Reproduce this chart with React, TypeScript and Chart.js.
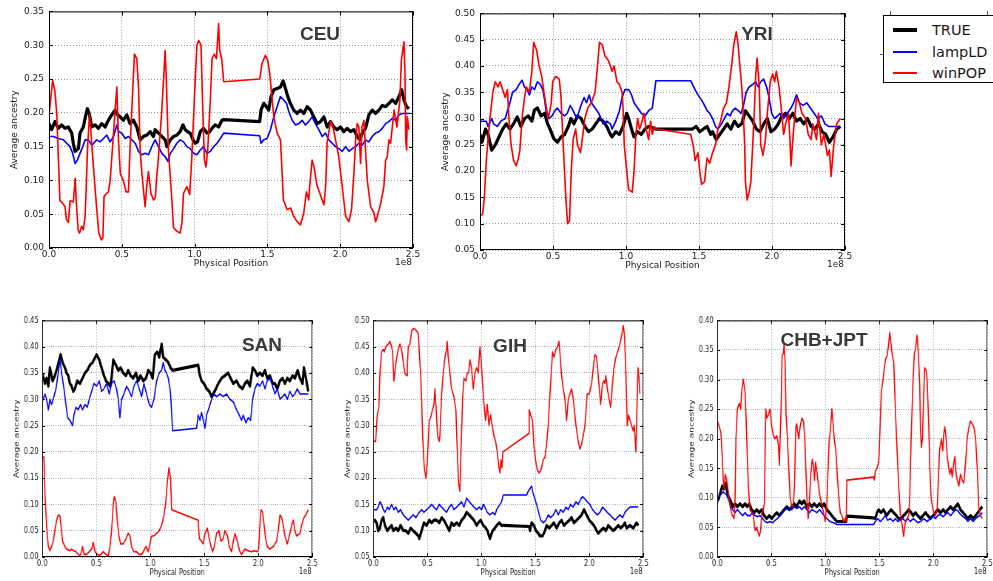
import React, { useEffect, useRef } from "react";
import { Chart, registerables } from "chart.js";

Chart.register(...registerables);

// [position (Mb), average ancestry]
type Pt = [number, number];

const X_TICK_LABELS = ["0.0", "0.5", "1.0", "1.5", "2.0", "2.5"];

const CEU_TRUE: Pt[] = [[0,0.184],[1.8,0.175],[4.1,0.187],[6.4,0.177],[8.7,0.182],[11,0.177],[13.3,0.179],[15.6,0.17],[16.7,0.155],[17.9,0.143],[20.2,0.147],[21.3,0.17],[23.6,0.179],[25.5,0.199],[26.4,0.206],[27.8,0.197],[29.4,0.179],[31.7,0.182],[33.9,0.177],[36.2,0.184],[38.5,0.179],[40.8,0.189],[43.1,0.197],[45.4,0.204],[47,0.197],[48.9,0.194],[51.1,0.189],[53.4,0.197],[55.7,0.184],[58,0.189],[60.3,0.179],[62.6,0.16],[64.9,0.165],[67.2,0.167],[69.5,0.172],[71.8,0.165],[72.9,0.175],[75.2,0.17],[77.5,0.165],[79.8,0.16],[81,0.15],[83.3,0.16],[85.6,0.165],[87.8,0.167],[90.1,0.172],[92,0.182],[93.6,0.175],[95.2,0.172],[97,0.17],[98.9,0.16],[100.5,0.155],[102,0.157],[103.9,0.172],[106.2,0.177],[108.5,0.17],[110.3,0.172],[111.9,0.177],[114.2,0.182],[116.5,0.179],[118.8,0.189],[120,0.19],[144.7,0.187],[145.6,0.204],[147.5,0.214],[149.3,0.209],[150.9,0.204],[152.5,0.224],[154.4,0.234],[156.7,0.236],[158.9,0.238],[160.8,0.247],[162.4,0.236],[164,0.224],[165.8,0.214],[168.1,0.204],[170.4,0.199],[172.7,0.204],[175,0.199],[177.3,0.209],[179.6,0.204],[181.9,0.194],[184.2,0.184],[186.5,0.187],[188.8,0.194],[191.1,0.179],[193.3,0.187],[195.6,0.179],[197.9,0.175],[200.2,0.179],[202.5,0.172],[204.8,0.177],[207.1,0.172],[209.4,0.175],[211.7,0.165],[213.5,0.16],[215.1,0.17],[217.4,0.177],[219.7,0.197],[222,0.204],[224.3,0.199],[226.6,0.204],[228.9,0.211],[231.2,0.209],[233.5,0.214],[235.8,0.219],[238.1,0.214],[240.4,0.224],[242.2,0.234],[243.8,0.219],[245.6,0.209],[247.2,0.206]];
const CEU_LAMPLD: Pt[] = [[0,0.165],[3,0.165],[6.4,0.162],[9.9,0.16],[12.2,0.155],[14.4,0.15],[16.3,0.14],[17.9,0.125],[19.5,0.13],[21.3,0.14],[23.2,0.15],[24.8,0.16],[27.1,0.16],[29.4,0.152],[32.8,0.16],[35.1,0.157],[37.4,0.162],[39.7,0.167],[42,0.157],[44.3,0.165],[46.6,0.182],[47.9,0.172],[50,0.17],[52.3,0.162],[54.6,0.165],[56.9,0.16],[59.2,0.155],[61.5,0.143],[63.8,0.138],[66.1,0.14],[68.3,0.138],[70.6,0.15],[72.9,0.16],[75.2,0.15],[77.5,0.14],[79.8,0.135],[81.7,0.128],[83.3,0.14],[85.6,0.147],[87.8,0.155],[90.1,0.16],[92.4,0.157],[94.7,0.15],[97,0.147],[99.3,0.14],[101.6,0.138],[103.9,0.145],[106.2,0.15],[108.5,0.14],[110.8,0.143],[113.1,0.15],[115.4,0.155],[117.7,0.162],[120,0.17],[144.7,0.166],[145.6,0.155],[147.5,0.16],[149.8,0.162],[152.1,0.175],[154.4,0.194],[156.7,0.209],[158.9,0.224],[161.2,0.219],[163.1,0.214],[164.7,0.202],[167,0.189],[169.3,0.182],[171.6,0.184],[173.9,0.189],[176.1,0.182],[178.4,0.187],[180.7,0.194],[183,0.184],[185.3,0.175],[187.6,0.165],[189.9,0.17],[192.2,0.16],[194.5,0.155],[196.8,0.15],[199.1,0.147],[201.4,0.143],[203.7,0.15],[206,0.143],[208.3,0.147],[210.6,0.15],[212.8,0.155],[215.1,0.152],[217.4,0.16],[219.7,0.157],[222,0.165],[224.3,0.17],[226.6,0.172],[228.9,0.177],[231.2,0.184],[233.5,0.187],[235.8,0.192],[238.1,0.189],[240.4,0.197],[242.7,0.199],[245,0.199],[247.2,0.199]];
const CEU_WINPOP: Pt[] = [[0,0.197],[2.5,0.248],[4,0.233],[5.3,0.2],[7.5,0.07],[9.4,0.066],[11,0.061],[12,0.042],[13.3,0.038],[14.5,0.07],[16.7,0.068],[18,0.103],[18.7,0.07],[20,0.027],[21,0.022],[22.5,0.032],[23.6,0.027],[24.8,0.047],[25.5,0.086],[26.4,0.145],[27.8,0.197],[28.7,0.175],[30.5,0.12],[32.8,0.057],[34.2,0.022],[36,0.012],[37,0.015],[37.8,0.076],[39.7,0.081],[40.8,0.083],[42,0.1],[44,0.16],[45.4,0.204],[46.6,0.238],[47.7,0.16],[49,0.11],[51,0.1],[53,0.083],[54.6,0.083],[55.7,0.15],[57.6,0.238],[58.7,0.287],[60.3,0.28],[61.5,0.238],[62.6,0.145],[63.8,0.11],[66,0.061],[67.2,0.093],[68.3,0.113],[70,0.081],[71.8,0.071],[73,0.074],[74,0.106],[75.2,0.135],[77.5,0.204],[79.8,0.292],[80.5,0.253],[82,0.145],[84.4,0.071],[85.5,0.03],[87.8,0.025],[90,0.022],[91.3,0.037],[92.4,0.081],[94.7,0.091],[96.6,0.079],[98,0.13],[100,0.229],[101.6,0.3],[102.8,0.307],[104.4,0.3],[105.5,0.214],[106.7,0.13],[107.8,0.12],[109,0.145],[110.8,0.219],[112,0.28],[113.5,0.287],[115,0.28],[116.5,0.332],[117.2,0.293],[118.6,0.28],[120,0.246],[144.7,0.25],[146.3,0.273],[148.6,0.285],[150.2,0.278],[151.6,0.258],[154.4,0.194],[156.7,0.17],[159,0.16],[161,0.071],[163.5,0.057],[166,0.059],[168,0.047],[170.4,0.039],[172.7,0.034],[175,0.052],[176.1,0.071],[176.8,0.083],[178.4,0.071],[179,0.09],[180.7,0.13],[182,0.12],[184,0.093],[186,0.081],[187.6,0.071],[188.8,0.064],[190,0.091],[191,0.155],[193.3,0.187],[195,0.18],[196.8,0.16],[199,0.135],[201.4,0.091],[203.7,0.047],[206,0.039],[207.8,0.057],[209.4,0.11],[210.6,0.16],[211.7,0.184],[212.8,0.179],[214,0.125],[215,0.179],[216.3,0.189],[217.4,0.145],[218.6,0.1],[220.9,0.061],[223.2,0.052],[224.3,0.039],[225.5,0.047],[227.8,0.066],[230,0.091],[231.2,0.13],[232.3,0.135],[233.5,0.16],[234.6,0.155],[237,0.204],[239,0.179],[241,0.219],[242,0.278],[243.8,0.305],[244.5,0.258],[245,0.16],[245.6,0.145],[246.1,0.194],[247.2,0.175]];

const YRI_TRUE: Pt[] = [[0,0.27],[1.3,0.255],[3.8,0.28],[5.5,0.27],[8,0.24],[10.5,0.25],[13,0.265],[15.5,0.28],[18,0.29],[20.5,0.28],[23,0.29],[25.5,0.303],[28,0.285],[30.5,0.3],[33,0.305],[35.5,0.295],[37.3,0.316],[39.3,0.32],[41.8,0.305],[44.3,0.31],[46.3,0.29],[48,0.28],[50.5,0.262],[53,0.255],[55.5,0.265],[58,0.27],[60.5,0.285],[62.3,0.3],[64.3,0.29],[66.8,0.305],[69.3,0.3],[71.8,0.285],[74.3,0.275],[76.8,0.28],[79.3,0.29],[81.8,0.3],[84.3,0.295],[86.8,0.285],[89.3,0.27],[90.5,0.265],[93,0.275],[95.5,0.27],[98,0.285],[100.5,0.31],[101.8,0.3],[103.8,0.28],[105.5,0.265],[108,0.275],[110.5,0.27],[113,0.28],[115.5,0.285],[120.5,0.28],[145.5,0.28],[148,0.285],[150.5,0.275],[153,0.28],[155.5,0.285],[158,0.27],[159.3,0.275],[161.8,0.26],[164.3,0.27],[166.8,0.28],[169.3,0.29],[171.8,0.28],[174.3,0.295],[176.8,0.285],[179.3,0.29],[181.8,0.315],[184.3,0.305],[186.8,0.295],[189.3,0.28],[191.8,0.275],[194.3,0.29],[196.8,0.3],[199.3,0.275],[201.8,0.28],[204.3,0.29],[206.8,0.305],[209.3,0.31],[211.8,0.3],[214.3,0.31],[216.8,0.295],[219.3,0.3],[221.8,0.29],[224.3,0.3],[226.8,0.285],[229.3,0.28],[231.8,0.29],[234.3,0.275],[236.8,0.27],[239.3,0.255],[241.8,0.265],[244.3,0.28],[246.8,0.285]];
const YRI_LAMPLD: Pt[] = [[0,0.295],[4.3,0.295],[5.5,0.285],[8,0.3],[9.3,0.29],[11.8,0.285],[14.3,0.295],[17.3,0.3],[18.8,0.315],[20.5,0.33],[22.3,0.35],[24.8,0.355],[26.8,0.365],[28.8,0.373],[30.5,0.36],[32.3,0.355],[33.8,0.345],[35.5,0.36],[37.3,0.355],[39.3,0.37],[41.3,0.365],[43,0.355],[44.3,0.335],[45.5,0.31],[47.3,0.3],[49.3,0.305],[51.3,0.315],[53,0.32],[55.5,0.31],[58,0.305],[59.8,0.31],[61.8,0.325],[63.8,0.315],[66.3,0.3],[68,0.315],[69.8,0.33],[71.3,0.34],[73,0.33],[74.8,0.345],[76.3,0.33],[78.8,0.32],[81.3,0.31],[83,0.3],[84.3,0.29],[86.8,0.295],[89.3,0.29],[90.5,0.28],[93,0.295],[95.5,0.315],[97.3,0.34],[99.3,0.355],[101.8,0.355],[103.8,0.345],[105.5,0.33],[108,0.32],[110.5,0.31],[113,0.305],[115.5,0.315],[118,0.32],[120.5,0.372],[144.3,0.372],[145.5,0.365],[147.3,0.355],[149.3,0.345],[151.8,0.335],[153.8,0.325],[155.5,0.315],[157.3,0.31],[159.3,0.3],[161.3,0.285],[163,0.28],[165.5,0.29],[167.3,0.3],[169.3,0.31],[171.3,0.305],[173,0.315],[174.8,0.32],[176.8,0.315],[178.8,0.31],[180.5,0.325],[182.3,0.35],[184.3,0.36],[186.8,0.365],[188.8,0.37],[190.5,0.36],[192.3,0.37],[194.3,0.375],[196.3,0.36],[198,0.34],[199.8,0.31],[201.8,0.3],[203.8,0.305],[205.5,0.31],[208,0.3],[210.5,0.31],[213,0.32],[214.8,0.33],[216.8,0.345],[218.8,0.33],[221.3,0.325],[223.8,0.33],[226.3,0.32],[228.8,0.31],[231.3,0.3],[233.8,0.305],[236.3,0.29],[238.8,0.285],[246.8,0.285]];
const YRI_WINPOP: Pt[] = [[0,0.115],[1.8,0.118],[3,0.15],[4.3,0.22],[5.5,0.26],[6.8,0.3],[8.8,0.35],[10.5,0.37],[12.3,0.36],[13.8,0.37],[15.5,0.355],[17.3,0.34],[18.8,0.355],[19.8,0.3],[21.3,0.25],[23,0.22],[24.8,0.21],[26.3,0.225],[27.3,0.24],[28.8,0.3],[30.5,0.34],[31.8,0.36],[33.8,0.35],[35.5,0.39],[36.8,0.445],[38.8,0.43],[40.5,0.4],[42.3,0.38],[43.8,0.35],[45.5,0.32],[46.8,0.3],[48.8,0.33],[49.8,0.37],[51.8,0.38],[54.3,0.375],[55.5,0.34],[56.8,0.26],[58.8,0.15],[60,0.1],[61.3,0.105],[62.5,0.2],[63.8,0.26],[65.5,0.28],[66.8,0.25],[68.8,0.235],[70.5,0.27],[71.8,0.3],[73.8,0.32],[76.3,0.33],[78.8,0.35],[80.5,0.4],[81.8,0.445],[83.8,0.44],[85.5,0.42],[88,0.41],[90.5,0.39],[91.8,0.4],[93.8,0.37],[95.5,0.365],[97.3,0.35],[98,0.32],[98.8,0.25],[100.5,0.2],[101.8,0.165],[104.3,0.16],[105.5,0.2],[106.8,0.27],[108,0.3],[109.3,0.28],[110.5,0.29],[112.3,0.31],[113.8,0.28],[115.5,0.26],[116.8,0.295],[118,0.27],[119.3,0.285],[120.5,0.28],[144.3,0.27],[146.3,0.245],[147.3,0.22],[149.3,0.235],[150.5,0.2],[151.8,0.175],[153.8,0.18],[155.5,0.225],[157.3,0.215],[159.3,0.235],[161.3,0.25],[163,0.28],[164.8,0.295],[166.8,0.32],[168.8,0.33],[170.5,0.36],[172.3,0.4],[173.8,0.44],[175.5,0.465],[176.8,0.44],[178,0.4],[179.3,0.36],[180.5,0.3],[181.3,0.25],[181.8,0.18],[183,0.145],[184.3,0.16],[185.5,0.18],[186.8,0.25],[188,0.32],[188.8,0.38],[189.8,0.415],[191.3,0.36],[192.3,0.25],[193.8,0.23],[195.5,0.26],[196.8,0.31],[198.8,0.37],[200.5,0.385],[201.8,0.37],[203,0.39],[204.8,0.36],[206.3,0.32],[208,0.27],[209.3,0.29],[211.3,0.31],[212.3,0.26],[213,0.21],[214.8,0.28],[216.8,0.34],[218.8,0.33],[220.5,0.31],[223,0.3],[224.8,0.27],[226.8,0.26],[228,0.29],[230.5,0.26],[231.8,0.31],[233.8,0.25],[235.5,0.27],[238,0.23],[239.3,0.24],[240.5,0.19],[242.3,0.25],[244.3,0.29],[246.8,0.3]];

const SAN_TRUE: Pt[] = [[0,0.35],[2.5,0.33],[4,0.34],[5.6,0.325],[7.1,0.36],[9.6,0.335],[11.7,0.345],[13.9,0.36],[15.7,0.375],[17,0.385],[18.8,0.37],[21,0.36],[22.5,0.35],[24.1,0.345],[25.6,0.33],[27.2,0.325],[28.7,0.315],[30.2,0.32],[32.4,0.335],[34.9,0.33],[37.3,0.34],[39.5,0.35],[41.7,0.355],[44.1,0.365],[46.6,0.37],[50.3,0.385],[52.8,0.375],[54.9,0.36],[57.1,0.345],[59,0.335],[61.1,0.33],[62.7,0.325],[64.2,0.34],[65.7,0.375],[68.2,0.365],[70.4,0.355],[72.5,0.36],[75,0.35],[77.5,0.345],[79.6,0.355],[81.8,0.345],[84.3,0.34],[86.7,0.35],[88.9,0.335],[91,0.345],[93.5,0.335],[96,0.34],[98.1,0.355],[100.3,0.35],[102.2,0.34],[104.3,0.385],[106.5,0.39],[108.3,0.38],[110.5,0.405],[112,0.38],[114.5,0.375],[116.7,0.37],[118.8,0.36],[120.7,0.355],[144.4,0.365],[145.4,0.35],[147.5,0.335],[149.7,0.33],[152.2,0.32],[154.6,0.315],[156.8,0.305],[158.3,0.31],[160.8,0.32],[163,0.33],[166,0.34],[169.1,0.345],[172.2,0.35],[174.4,0.34],[176.9,0.33],[179.9,0.335],[182.4,0.325],[185.5,0.32],[187.7,0.33],[189.8,0.335],[192.3,0.325],[194.8,0.36],[196.9,0.355],[199.1,0.345],[201.5,0.35],[204,0.345],[206.2,0.355],[208.3,0.34],[210.8,0.345],[213.3,0.33],[215.4,0.33],[217.6,0.32],[220.1,0.335],[222.5,0.34],[224.7,0.33],[226.9,0.34],[229.3,0.335],[231.8,0.345],[233.9,0.34],[236.4,0.355],[238.6,0.34],[241,0.33],[242.3,0.36],[244.1,0.34],[246.3,0.315]];
const SAN_LAMPLD: Pt[] = [[0,0.295],[2.5,0.31],[4,0.3],[5.6,0.28],[7.1,0.3],[8.6,0.29],[10.8,0.305],[12.7,0.32],[14.8,0.35],[16.4,0.375],[17.9,0.35],[20.1,0.32],[21.9,0.29],[23.5,0.265],[25.6,0.26],[28.1,0.25],[29.3,0.27],[31.2,0.285],[33.3,0.28],[35.5,0.29],[37.3,0.28],[39.5,0.29],[41.7,0.285],[43.5,0.3],[45.7,0.315],[47.8,0.33],[50.3,0.325],[52.8,0.335],[54.9,0.315],[57.1,0.32],[59.6,0.33],[62,0.31],[64.2,0.33],[66.4,0.335],[68.8,0.32],[70.4,0.3],[71.9,0.265],[73.5,0.3],[75.6,0.31],[78.1,0.325],[80.6,0.315],[82.7,0.305],[84.9,0.325],[87.3,0.335],[89.8,0.32],[92,0.305],[94.1,0.33],[96.6,0.31],[99.1,0.29],[101.2,0.285],[103.4,0.3],[105.9,0.335],[108.3,0.35],[110.5,0.355],[112,0.37],[113.6,0.355],[115.1,0.35],[116.7,0.34],[118.2,0.32],[118.8,0.31],[120.7,0.24],[142.9,0.245],[144.4,0.27],[146,0.26],[147.5,0.275],[149.1,0.26],[150.6,0.245],[152.2,0.27],[154.6,0.285],[156.8,0.3],[159,0.31],[161.4,0.305],[164.5,0.31],[167.6,0.305],[170.7,0.31],[173.8,0.3],[176.9,0.295],[179.9,0.28],[182.4,0.27],[184.6,0.26],[186.1,0.27],[188.6,0.255],[190.7,0.265],[192.9,0.26],[194.8,0.3],[196.9,0.32],[199.1,0.33],[201.5,0.325],[204,0.335],[206.2,0.32],[208.3,0.335],[210.8,0.34],[213.3,0.325],[215.4,0.31],[217.6,0.32],[220.1,0.3],[222.5,0.305],[224.7,0.31],[226.9,0.3],[229.3,0.315],[231.8,0.305],[233.9,0.31],[236.1,0.32],[238.6,0.31],[246.3,0.31]];
const SAN_WINPOP: Pt[] = [[0,0.19],[1.5,0.19],[2.5,0.12],[4,0.06],[5.6,0.02],[7.1,0.012],[8.6,0.02],[10.2,0.03],[11.7,0.05],[13.3,0.07],[14.8,0.08],[16.4,0.078],[17.3,0.06],[18.8,0.03],[21,0.02],[22.5,0.015],[25.6,0.012],[27.2,0.015],[29.3,0.012],[31.2,0.01],[33.3,0.005],[34.9,0.002],[36.4,0.01],[37.3,0.02],[38.6,0.005],[41,0.005],[43.5,0.01],[45.7,0.015],[47.2,0.028],[48.8,0.01],[50.9,0.005],[53.4,0.003],[56.5,0.01],[59,0.005],[61.1,0.002],[62.7,0.02],[64.2,0.05],[65.7,0.1],[66.7,0.115],[68.2,0.105],[69.4,0.07],[71,0.04],[72.5,0.025],[75,0.025],[77.5,0.035],[79.6,0.045],[81.2,0.04],[82.7,0.02],[84.9,0.01],[87.3,0.01],[89.8,0.005],[92,0.005],[93.5,0.01],[96,0.02],[98.1,0.01],[99.7,0.025],[101.2,0.04],[103.4,0.04],[105.9,0.045],[108.3,0.05],[110.5,0.06],[112.7,0.08],[114.2,0.1],[115.7,0.14],[117.3,0.17],[118.8,0.15],[119.8,0.09],[144.4,0.07],[145.4,0.035],[147.5,0.03],[149.1,0.025],[150.6,0.045],[152.8,0.055],[154.6,0.035],[156.2,0.02],[157.7,0.01],[159.3,0.02],[161.4,0.045],[163.6,0.05],[165.4,0.03],[167.6,0.035],[169.1,0.05],[171.6,0.04],[173.1,0.02],[175.3,0.01],[176.9,0.03],[178.4,0.045],[180.6,0.03],[183,0.01],[184.6,0.005],[187.7,0.015],[190.7,0.012],[193.8,0.01],[196,0.012],[199.1,0.01],[200.3,0.015],[201.5,0.06],[202.5,0.09],[204,0.085],[205.2,0.065],[206.8,0.035],[208.3,0.02],[210.8,0.015],[213.9,0.02],[217,0.03],[218.5,0.05],[220.1,0.08],[221.6,0.075],[223.1,0.06],[224.7,0.04],[226.9,0.025],[228.7,0.04],[230.9,0.06],[232.4,0.07],[233.9,0.05],[235.5,0.04],[238.6,0.045],[240.1,0.06],[242.3,0.075],[244.1,0.08],[246.3,0.09]];

const GIH_TRUE: Pt[] = [[0,0.118],[1.5,0.12],[3.1,0.115],[4.6,0.1],[6.2,0.105],[7.7,0.12],[9.3,0.125],[10.8,0.11],[13,0.1],[14.8,0.105],[17,0.11],[18.5,0.1],[21,0.105],[23.1,0.1],[25.3,0.11],[27.8,0.1],[30.2,0.1],[32.4,0.095],[34.6,0.105],[37,0.1],[39.5,0.095],[41.7,0.09],[42.6,0.085],[44.8,0.1],[46.9,0.115],[49.4,0.11],[51.9,0.12],[54,0.115],[56.2,0.12],[58.6,0.12],[61.1,0.115],[63.3,0.125],[65.4,0.12],[67.9,0.11],[70.4,0.1],[72.5,0.115],[74.7,0.11],[77.2,0.115],[79.6,0.11],[81.8,0.12],[84,0.125],[86.4,0.135],[88.9,0.13],[91,0.125],[93.2,0.12],[95.7,0.11],[97.2,0.115],[99.4,0.12],[101.9,0.11],[104.3,0.105],[105.6,0.1],[108,0.085],[110.5,0.1],[112.7,0.105],[114.2,0.11],[116.7,0.115],[118.8,0.11],[119.8,0.11],[144.4,0.108],[145.1,0.1],[146.6,0.115],[148.8,0.11],[150.6,0.1],[152.8,0.095],[154.3,0.09],[156.8,0.09],[159,0.1],[160.5,0.11],[163,0.105],[165.1,0.11],[167.3,0.115],[169.8,0.105],[172.2,0.115],[174.4,0.12],[176.5,0.11],[179,0.115],[181.5,0.12],[183.6,0.125],[185.8,0.115],[188.3,0.12],[190.7,0.125],[192.9,0.13],[195.1,0.14],[197.5,0.13],[200,0.12],[202.2,0.115],[204.3,0.11],[206.8,0.1],[208.3,0.095],[210.5,0.1],[213,0.105],[215.4,0.1],[217.6,0.11],[219.8,0.105],[222.2,0.1],[224.7,0.105],[226.9,0.11],[229,0.105],[231.5,0.11],[233,0.115],[234.6,0.105],[237.7,0.11],[240.7,0.105],[243.8,0.115],[245.4,0.11]];
const GIH_LAMPLD: Pt[] = [[0,0.14],[3.1,0.14],[4.6,0.145],[6.2,0.155],[7.7,0.15],[9.3,0.14],[10.8,0.135],[13,0.145],[14.8,0.14],[17,0.15],[19.1,0.14],[21,0.145],[23.1,0.135],[25.3,0.14],[27.8,0.13],[30.2,0.125],[32.4,0.12],[34.6,0.125],[37,0.13],[39.5,0.125],[42.6,0.135],[44.8,0.14],[46.9,0.135],[49.4,0.14],[51.9,0.145],[54,0.15],[56.2,0.145],[58.6,0.14],[61.1,0.15],[63.3,0.145],[65.4,0.14],[67.9,0.135],[70.4,0.145],[72.5,0.15],[74.7,0.14],[77.2,0.145],[79.6,0.15],[81.8,0.155],[84,0.145],[86.4,0.162],[88.9,0.155],[91,0.15],[93.2,0.145],[95.7,0.14],[98.1,0.145],[100.3,0.14],[101.9,0.15],[103.4,0.145],[105.6,0.135],[108,0.13],[110.5,0.135],[112.7,0.13],[114.2,0.14],[115.7,0.145],[117.3,0.15],[118.8,0.155],[120.4,0.168],[142,0.168],[143.5,0.175],[145.1,0.18],[146.6,0.185],[148.1,0.17],[149.7,0.16],[151.9,0.145],[153.7,0.13],[155.2,0.12],[157.4,0.115],[159.9,0.12],[162,0.13],[164.2,0.125],[166.7,0.13],[169.1,0.14],[171.3,0.13],[173.5,0.14],[175.9,0.135],[178.4,0.145],[180.6,0.14],[182.7,0.15],[185.2,0.145],[187.7,0.155],[189.8,0.15],[192,0.16],[193.8,0.165],[196,0.16],[198.1,0.155],[200.6,0.15],[203.1,0.14],[205.2,0.135],[207.4,0.13],[209.9,0.135],[212.3,0.145],[214.5,0.14],[216.7,0.135],[219.1,0.13],[221.6,0.125],[223.8,0.12],[225.9,0.125],[228.4,0.13],[230.9,0.125],[233,0.135],[235.2,0.14],[237.7,0.145],[245.4,0.145]];
const GIH_WINPOP: Pt[] = [[0,0.27],[2.2,0.27],[3.7,0.32],[5.2,0.335],[6.2,0.4],[7.7,0.44],[9.3,0.445],[10.2,0.44],[11.7,0.45],[13.9,0.455],[15.4,0.46],[17,0.45],[17.9,0.44],[19.1,0.385],[21,0.42],[23.1,0.445],[24.7,0.455],[26.2,0.445],[27.8,0.42],[29.3,0.4],[30.9,0.395],[31.5,0.41],[32.4,0.45],[34,0.455],[35.5,0.48],[37.7,0.485],[40.1,0.48],[41.7,0.475],[42.6,0.44],[43.8,0.4],[44.8,0.35],[45.7,0.28],[47.2,0.22],[48.8,0.2],[50,0.23],[50.9,0.27],[51.9,0.31],[53.1,0.315],[54.9,0.33],[56.2,0.34],[57.1,0.37],[58,0.34],[59.6,0.28],[61.1,0.27],[61.7,0.28],[63.3,0.36],[64.8,0.4],[66.4,0.43],[67.9,0.445],[68.5,0.46],[69.4,0.43],[71,0.4],[72.5,0.37],[74.7,0.355],[76.5,0.33],[77.8,0.25],[79,0.19],[80.2,0.175],[81.2,0.25],[82.7,0.35],[84,0.39],[85.8,0.385],[87,0.4],[88.3,0.4],[89.5,0.425],[91,0.41],[92.6,0.37],[94.1,0.4],[95.7,0.41],[97.2,0.4],[98.8,0.45],[99.7,0.43],[101.2,0.38],[102.5,0.34],[104,0.31],[105.6,0.34],[107.1,0.3],[108.6,0.32],[110.2,0.3],[111.7,0.28],[113.3,0.27],[114.8,0.25],[116.4,0.22],[117.3,0.21],[118.2,0.235],[119.1,0.22],[120.1,0.25],[144.1,0.285],[144.4,0.33],[145.7,0.32],[147.5,0.31],[148.8,0.26],[150.6,0.23],[151.9,0.215],[153.7,0.21],[155.2,0.215],[157.4,0.235],[159,0.24],[160.5,0.265],[162,0.3],[163.6,0.36],[165.1,0.41],[166,0.44],[167.3,0.43],[169.1,0.445],[170.7,0.45],[171.9,0.46],[172.8,0.44],[174.1,0.4],[175.9,0.37],[177.5,0.35],[179,0.31],[180.6,0.35],[182.1,0.36],[183.6,0.37],[185.2,0.35],[187.7,0.3],[189.8,0.27],[191.4,0.255],[192.9,0.265],[194.4,0.28],[196,0.3],[198.1,0.36],[200,0.36],[202.2,0.38],[203.7,0.41],[205.2,0.435],[206.8,0.43],[208.3,0.395],[209.3,0.37],[210.5,0.34],[212.3,0.38],[213.6,0.385],[214.5,0.38],[215.4,0.395],[216.7,0.37],[218.5,0.35],[219.8,0.335],[221.6,0.38],[222.8,0.41],[224.7,0.43],[226.2,0.44],[227.8,0.45],[229.9,0.47],[231.5,0.49],[232.7,0.47],[233.9,0.4],[235.2,0.3],[236.4,0.32],[237.7,0.31],[239.2,0.3],[240.7,0.29],[241.7,0.3],[243.2,0.25],[244.1,0.33],[245.1,0.41],[246,0.39],[246.9,0.36]];

const CHBJPT_TRUE: Pt[] = [[0,0.094],[1.5,0.1],[3.1,0.11],[4.6,0.12],[6.2,0.115],[7.7,0.125],[9.3,0.11],[10.8,0.1],[12.4,0.095],[14.2,0.085],[16.4,0.09],[18.6,0.085],[21,0.09],[23.5,0.085],[25.7,0.09],[27.8,0.085],[29.7,0.09],[31.9,0.08],[34,0.075],[36.5,0.08],[39,0.075],[41.2,0.08],[43.3,0.07],[45.8,0.065],[48.3,0.07],[50.4,0.065],[52.6,0.07],[55.1,0.075],[57.5,0.07],[59.7,0.075],[61.9,0.08],[64.4,0.085],[66.8,0.08],[69,0.085],[71.2,0.09],[73.6,0.085],[76.1,0.095],[78.3,0.09],[80.4,0.095],[82.9,0.085],[85.4,0.09],[87.6,0.085],[89.7,0.09],[92.2,0.085],[94.7,0.09],[96.8,0.085],[99,0.09],[101.5,0.08],[104,0.075],[106.1,0.07],[108.3,0.065],[110.8,0.06],[115.4,0.06],[119.4,0.06],[120,0.069],[144.8,0.066],[146.3,0.065],[147.9,0.075],[149.4,0.08],[151.6,0.075],[154,0.08],[156.6,0.07],[158.7,0.075],[160.9,0.08],[163.4,0.075],[165.8,0.07],[168,0.065],[170.2,0.065],[172.6,0.07],[175.1,0.075],[177.3,0.08],[179.5,0.075],[181.3,0.07],[183.5,0.075],[185.6,0.07],[188.1,0.065],[190.6,0.07],[192.8,0.075],[194.9,0.07],[197.4,0.065],[199.9,0.07],[202,0.075],[204.2,0.08],[206.7,0.075],[209.2,0.08],[211.3,0.075],[213.5,0.08],[216,0.085],[218.4,0.08],[220.6,0.085],[222.8,0.09],[225.2,0.08],[227.7,0.075],[229.9,0.07],[232.1,0.065],[234.5,0.07],[237,0.065],[239.2,0.07],[241.3,0.075],[243.2,0.08],[245.4,0.085]];
const CHBJPT_LAMPLD: Pt[] = [[0,0.1],[3.1,0.105],[5.6,0.11],[8.7,0.105],[10.8,0.095],[12.4,0.085],[14.2,0.08],[16.4,0.075],[18.6,0.08],[21,0.075],[23.5,0.07],[25.7,0.075],[27.8,0.07],[30.3,0.07],[32.8,0.075],[35,0.07],[37.1,0.068],[39.6,0.07],[42.1,0.065],[44.2,0.06],[46.4,0.058],[48.9,0.06],[51.4,0.058],[53.5,0.062],[55.7,0.065],[58.2,0.07],[60.6,0.075],[62.8,0.08],[65.9,0.082],[69,0.08],[71.2,0.085],[73.6,0.082],[76.1,0.085],[78.3,0.08],[80.4,0.085],[82.9,0.08],[85.4,0.075],[87.6,0.08],[89.7,0.078],[92.2,0.075],[94.7,0.08],[96.8,0.075],[99,0.07],[101.5,0.065],[104.6,0.06],[107.7,0.058],[110.8,0.055],[115.4,0.055],[120,0.055],[144.8,0.055],[146.3,0.06],[148.5,0.065],[151,0.06],[153.5,0.065],[155.6,0.07],[157.8,0.062],[160.3,0.065],[162.7,0.06],[164.9,0.065],[167.1,0.06],[169.6,0.062],[172,0.065],[174.5,0.06],[176.4,0.065],[178.8,0.06],[181.3,0.065],[183.5,0.062],[185.6,0.058],[188.1,0.06],[191.2,0.065],[194.3,0.06],[197.4,0.065],[199.9,0.07],[202,0.065],[204.2,0.07],[206.7,0.072],[209.2,0.068],[211.3,0.072],[213.5,0.075],[216,0.07],[218.4,0.075],[220.6,0.08],[222.8,0.078],[225.2,0.072],[227.7,0.068],[229.9,0.065],[232.1,0.06],[234.5,0.065],[237,0.06],[239.2,0.065],[241.3,0.068],[243.2,0.07],[245.4,0.075]];
const CHBJPT_WINPOP: Pt[] = [[0,0.23],[1.9,0.22],[3.4,0.21],[4.6,0.17],[5.6,0.13],[6.5,0.115],[7.4,0.14],[8.7,0.13],[9.6,0.12],[10.8,0.1],[12.4,0.08],[13.9,0.07],[15.5,0.065],[16.4,0.09],[17.3,0.2],[18.6,0.25],[20.4,0.26],[21.7,0.25],[22.6,0.28],[24.1,0.3],[25.7,0.28],[26.6,0.24],[27.8,0.17],[28.8,0.12],[30.3,0.08],[31.9,0.075],[33.4,0.07],[35,0.045],[36.5,0.05],[38.1,0.04],[39,0.035],[40.2,0.045],[41.2,0.075],[42.7,0.08],[43.6,0.09],[44.9,0.25],[45.8,0.235],[47.3,0.24],[48.9,0.25],[50.4,0.22],[52,0.205],[53.5,0.2],[55.1,0.205],[56.6,0.19],[57.5,0.155],[58.2,0.2],[59.1,0.25],[60,0.34],[61.3,0.345],[61.9,0.36],[62.8,0.33],[63.7,0.24],[65,0.2],[66.2,0.15],[67.5,0.1],[69,0.085],[70.5,0.09],[71.5,0.12],[72.7,0.22],[73.6,0.225],[74.6,0.21],[75.5,0.2],[76.7,0.22],[78.3,0.235],[79.8,0.23],[81.1,0.2],[82,0.15],[83.2,0.09],[84.2,0.065],[85.4,0.1],[86.6,0.14],[87.9,0.165],[89.1,0.155],[90,0.13],[91,0.16],[92.2,0.145],[93.8,0.12],[95.3,0.1],[96.8,0.09],[98.4,0.075],[99.9,0.06],[101.5,0.09],[102.4,0.14],[103.7,0.2],[104.6,0.21],[106.1,0.25],[107.1,0.23],[108.3,0.2],[109.8,0.18],[111.4,0.13],[112.6,0.1],[113.9,0.075],[115.4,0.07],[117,0.06],[118.5,0.065],[119.4,0.06],[120,0.13],[144.8,0.135],[145.4,0.13],[146.3,0.145],[147.9,0.15],[149.4,0.16],[150.4,0.2],[151.9,0.28],[153.5,0.3],[154.7,0.32],[155.9,0.335],[157.2,0.34],[158.7,0.36],[159.7,0.38],[160.9,0.36],[162.1,0.34],[163.4,0.33],[164.9,0.25],[166.5,0.18],[168,0.12],[169.6,0.07],[171.1,0.055],[172.6,0.035],[174.2,0.06],[175.7,0.065],[177.3,0.07],[178.2,0.1],[179.5,0.2],[180.4,0.25],[181.3,0.3],[182.5,0.345],[183.5,0.35],[185,0.375],[186,0.35],[187.5,0.29],[188.1,0.22],[189,0.185],[190,0.2],[191.2,0.28],[192.1,0.32],[193.4,0.315],[194.3,0.3],[195.9,0.22],[196.8,0.15],[198,0.1],[199.3,0.085],[200.5,0.075],[202,0.07],[203.6,0.08],[204.5,0.12],[205.8,0.18],[206.7,0.19],[207.6,0.2],[208.8,0.18],[209.8,0.21],[210.7,0.22],[211.9,0.2],[212.9,0.17],[214.4,0.15],[215.3,0.14],[216.6,0.15],[217.5,0.135],[219.1,0.16],[220,0.17],[221.2,0.14],[222.2,0.13],[223.7,0.12],[225.2,0.14],[226.8,0.13],[228.3,0.125],[229.9,0.16],[231.4,0.2],[233,0.22],[234.5,0.23],[236.1,0.225],[237.6,0.22],[239.2,0.2],[240.7,0.15],[242.3,0.08],[243.8,0.07],[245.4,0.065]];

const SERIES_NAMES = ["TRUE", "lampLD", "winPOP"];
const SERIES_COLORS = ["#000000", "#0000ff", "#ff0000"];

// Layout constants (canvas units, before any horizontal squeeze)
const Y_AXIS_W = 49;
const PAD_TOP = 10;
const PAD_RIGHT = 14;
const X_AXIS_H = 26;
const BASE_PLOT_W = 365;
const FONT_FAMILY = "'DejaVu Sans', sans-serif";
const AXIS_FONT_SIZE = 9;
const TEXT_COLOR = "#1a1a1a";

interface PanelSpec {
  title: string;
  yMin: number;
  yMax: number;
  series: Pt[][];
  area: { left: number; top: number; right: number; bottom: number };
  squeeze: boolean;
  titleAt: [number, number];
}

const PANELS: PanelSpec[] = [
  { title: "CEU", yMin: 0, yMax: 0.35, series: [CEU_TRUE, CEU_LAMPLD, CEU_WINPOP], area: { left: 49, top: 11, right: 413, bottom: 248 }, squeeze: false, titleAt: [320, 33] },
  { title: "YRI", yMin: 0.05, yMax: 0.5, series: [YRI_TRUE, YRI_LAMPLD, YRI_WINPOP], area: { left: 480, top: 13, right: 845, bottom: 250 }, squeeze: false, titleAt: [757, 33] },
  { title: "SAN", yMin: 0, yMax: 0.45, series: [SAN_TRUE, SAN_LAMPLD, SAN_WINPOP], area: { left: 42, top: 320, right: 312, bottom: 557 }, squeeze: true, titleAt: [262, 344] },
  { title: "GIH", yMin: 0.05, yMax: 0.5, series: [GIH_TRUE, GIH_LAMPLD, GIH_WINPOP], area: { left: 373, top: 320, right: 643, bottom: 557 }, squeeze: true, titleAt: [510, 345] },
  { title: "CHB+JPT", yMin: 0, yMax: 0.4, series: [CHBJPT_TRUE, CHBJPT_LAMPLD, CHBJPT_WINPOP], area: { left: 717, top: 320, right: 987, bottom: 557 }, squeeze: true, titleAt: [824, 339] },
];

// Full box around the plot, inward tick marks and the "1e8" offset label.
const framePlugin = {
  id: "axesFrame",
  afterDatasetsDraw(chart: any) {
    const { ctx, chartArea } = chart;
    const { left, top, right, bottom } = chartArea;
    const xs = chart.scales.x;
    const ys = chart.scales.y;
    ctx.save();
    ctx.strokeStyle = "#000";
    ctx.lineWidth = 1;
    ctx.strokeRect(left + 0.5, top + 0.5, right - left - 1, bottom - top - 1);
    ctx.beginPath();
    xs.ticks.forEach((t: any) => {
      const px = Math.round(xs.getPixelForValue(t.value)) + 0.5;
      ctx.moveTo(px, bottom);
      ctx.lineTo(px, bottom - 4);
      ctx.moveTo(px, top);
      ctx.lineTo(px, top + 4);
    });
    ys.ticks.forEach((t: any) => {
      const py = Math.round(ys.getPixelForValue(t.value)) + 0.5;
      ctx.moveTo(left, py);
      ctx.lineTo(left + 4, py);
      ctx.moveTo(right, py);
      ctx.lineTo(right - 4, py);
    });
    ctx.stroke();
    ctx.fillStyle = TEXT_COLOR;
    ctx.font = `${AXIS_FONT_SIZE}px ${FONT_FAMILY}`;
    ctx.textAlign = "right";
    ctx.textBaseline = "middle";
    ctx.fillText("1e8", right - 1, bottom + 15);
    ctx.restore();
  },
};

function AncestryPanel({ spec }: { spec: PanelSpec }) {
  const canvasRef = useRef<HTMLCanvasElement | null>(null);
  const { left, top, right, bottom } = spec.area;
  const plotW = spec.squeeze ? BASE_PLOT_W : right - left;
  const plotH = bottom - top;
  const sx = (right - left) / plotW;
  const cw = Y_AXIS_W + plotW + PAD_RIGHT;
  const ch = PAD_TOP + plotH + X_AXIS_H;

  useEffect(() => {
    if (!canvasRef.current) return;
    const lineH = AXIS_FONT_SIZE * 1.2;
    const font = { family: FONT_FAMILY, size: AXIS_FONT_SIZE };
    const datasets = spec.series.map((pts, i) => ({
      label: SERIES_NAMES[i],
      data: pts.map(([mb, v]) => ({ x: mb * 1e6, y: v })),
      borderColor: SERIES_COLORS[i],
      backgroundColor: SERIES_COLORS[i],
      borderWidth: i === 0 ? 3.2 : 1.6,
      pointRadius: 0,
      tension: 0,
      fill: false,
      borderJoinStyle: "round" as const,
      order: 2 - i,
    }));
    const chart = new Chart(canvasRef.current, {
      type: "line",
      data: { datasets },
      options: {
        animation: false,
        responsive: false,
        devicePixelRatio: 1,
        layout: { padding: { left: 0, top: PAD_TOP, right: PAD_RIGHT, bottom: 0 } },
        plugins: { legend: { display: false }, tooltip: { enabled: false } },
        scales: {
          x: {
            type: "linear",
            min: 0,
            max: 2.5e8,
            afterFit: (s: any) => { s.height = X_AXIS_H; },
            ticks: {
              stepSize: 5e7,
              autoSkip: false,
              maxRotation: 0,
              padding: 1,
              font,
              color: TEXT_COLOR,
              callback: (v: any) => X_TICK_LABELS[Math.round(Number(v) / 5e7)] ?? "",
            },
            grid: { color: "#9a9a9a", lineWidth: 1, drawTicks: false },
            border: { display: false, dash: [1, 2] },
            title: {
              display: true,
              text: "Physical Position",
              font,
              color: TEXT_COLOR,
              padding: { top: 0, bottom: X_AXIS_H - 16 - lineH / 2 },
            },
          },
          y: {
            type: "linear",
            min: spec.yMin,
            max: spec.yMax,
            afterFit: (s: any) => { s.width = Y_AXIS_W; },
            ticks: {
              stepSize: 0.05,
              autoSkip: false,
              padding: 5,
              font,
              color: TEXT_COLOR,
              callback: (v: any) => Number(v).toFixed(2),
            },
            grid: { color: "#9a9a9a", lineWidth: 1, drawTicks: false },
            border: { display: false, dash: [1, 2] },
            title: {
              display: true,
              text: "Average ancestry",
              font,
              color: TEXT_COLOR,
              padding: { top: Y_AXIS_W - 34 - lineH / 2, bottom: 0 },
            },
          },
        },
      },
      plugins: [framePlugin],
    });
    return () => chart.destroy();
  }, [spec]);

  return (
    <div
      style={{
        position: "absolute",
        left: left - Y_AXIS_W * sx,
        top: top - PAD_TOP,
        width: cw,
        height: ch,
        transform: `scaleX(${sx})`,
        transformOrigin: "0 0",
      }}
    >
      <canvas ref={canvasRef} width={cw} height={ch} style={{ display: "block", width: cw, height: ch }} />
    </div>
  );
}

function Legend() {
  const rows = [14, 36, 57];
  const tick = (l: number, t: number, w: number, h: number) => (
    <div style={{ position: "absolute", left: l, top: t, width: w, height: h, background: "#555" }} />
  );
  return (
    <>
      {tick(890, 11, 1, 4)}
      {tick(987, 11, 1, 4)}
      {tick(880, 54, 3, 1)}
      <div
        style={{
          position: "absolute",
          left: 883,
          top: 15,
          width: 120,
          height: 68,
          border: "1px solid #000",
          boxSizing: "border-box",
          background: "#fff",
        }}
      >
        {SERIES_NAMES.map((name, i) => (
          <React.Fragment key={name}>
            <div
              style={{
                position: "absolute",
                left: 9,
                top: rows[i] - (i === 0 ? 2 : 1),
                width: 24,
                height: i === 0 ? 4 : 2,
                background: SERIES_COLORS[i],
              }}
            />
            <div
              style={{
                position: "absolute",
                left: 48,
                top: rows[i] - 9,
                height: 18,
                lineHeight: "18px",
                fontFamily: FONT_FAMILY,
                fontSize: 14.5,
                color: TEXT_COLOR,
                whiteSpace: "nowrap",
              }}
            >
              {name}
            </div>
          </React.Fragment>
        ))}
      </div>
    </>
  );
}

export default function App() {
  return (
    <div
      style={{
        position: "fixed",
        left: 0,
        top: 0,
        width: 993,
        height: 581,
        background: "#ffffff",
        overflow: "hidden",
      }}
    >
      {PANELS.map((p) => (
        <AncestryPanel key={p.title} spec={p} />
      ))}
      {PANELS.map((p) => (
        <div
          key={`t-${p.title}`}
          style={{
            position: "absolute",
            left: p.titleAt[0],
            top: p.titleAt[1],
            transform: "translate(-50%, -50%)",
            fontFamily: "'Liberation Sans', Arial, sans-serif",
            fontWeight: "bold",
            fontSize: 19,
            color: "#3a3a3a",
            whiteSpace: "nowrap",
            lineHeight: 1,
          }}
        >
          {p.title}
        </div>
      ))}
      <Legend />
    </div>
  );
}
